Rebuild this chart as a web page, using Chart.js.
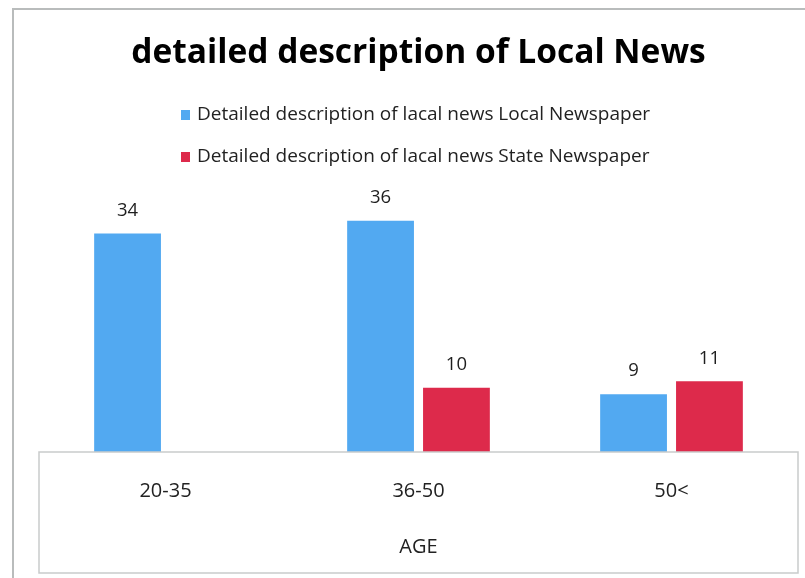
<!DOCTYPE html>
<html>
<head>
<meta charset="utf-8">
<title>detailed description of Local News</title>
<script src="https://cdn.jsdelivr.net/npm/chart.js@4/dist/chart.umd.min.js"></script>
<style>
  html, body { margin: 0; padding: 0; background: #ffffff; overflow: hidden; width: 805px; height: 578px; }
  #frame {
    position: absolute; left: 12px; top: 8px;
    width: 805px; height: 578px;
    border-left: 2px solid #b9bcbc; border-top: 2px solid #b9bcbc;
    background: #ffffff;
  }
  canvas { display: block; }
</style>
</head>
<body>
<div id="frame"><canvas id="chart" width="805" height="578"></canvas></div>
<script>
// Age groups and answers per newspaper type
const categories = ['20-35', '36-50', '50<'];
const localNewspaper = [34, 36, 9];
const stateNewspaper = [null, 10, 11];
const seriesNames = [
  'Detailed description of lacal news Local Newspaper',
  'Detailed description of lacal news State Newspaper'
];
const chartTitle = 'detailed description of Local News';
const axisTitle = 'AGE';

const BLUE = '#52a9f1';
const RED = '#dd2a4b';
const FONT = '"Open Sans", Lato, sans-serif';

// Value labels above each bar
const valueLabels = {
  id: 'valueLabels',
  afterDatasetsDraw(chart) {
    const ctx = chart.ctx;
    ctx.save();
    ctx.font = '18.5px ' + FONT;
    ctx.fillStyle = '#1e1e1e';
    ctx.textAlign = 'center';
    ctx.textBaseline = 'middle';
    chart.data.datasets.forEach((ds, i) => {
      const meta = chart.getDatasetMeta(i);
      meta.data.forEach((bar, j) => {
        const v = ds.data[j];
        if (v === null || v === undefined) return;
        ctx.fillText(String(v), bar.x, bar.y - 23);
      });
    });
    ctx.restore();
  }
};

// Stacked legend under the title, left aligned as a block
const stackedLegend = {
  id: 'stackedLegend',
  afterDraw(chart) {
    const ctx = chart.ctx;
    ctx.save();
    ctx.font = '19px ' + FONT;
    ctx.textBaseline = 'middle';
    ctx.textAlign = 'left';
    const x0 = 167;
    const rows = [105, 147];
    chart.data.datasets.forEach((ds, i) => {
      const y = rows[i];
      ctx.fillStyle = ds.backgroundColor;
      ctx.fillRect(x0, y - 5, 9, 10);
      ctx.fillStyle = '#222222';
      ctx.fillText(ds.label, x0 + 16, y);
    });
    ctx.restore();
  }
};

// Box framing the category axis area
const axisBox = {
  id: 'axisBox',
  afterDraw(chart) {
    const x = chart.scales.x;
    const ctx = chart.ctx;
    ctx.save();
    ctx.strokeStyle = '#c9cbcb';
    ctx.lineWidth = 1.5;
    ctx.strokeRect(x.left, chart.chartArea.bottom, x.right - x.left, x.bottom - chart.chartArea.bottom);
    ctx.restore();
  }
};

new Chart(document.getElementById('chart'), {
  type: 'bar',
  data: {
    labels: categories,
    datasets: [
      { label: seriesNames[0], data: localNewspaper, backgroundColor: BLUE },
      { label: seriesNames[1], data: stateNewspaper, backgroundColor: RED }
    ]
  },
  options: {
    responsive: false,
    animation: false,
    events: [],
    layout: { padding: { left: 25, right: 21, top: 0, bottom: 15 } },
    datasets: { bar: { categoryPercentage: 0.6, barPercentage: 0.88 } },
    plugins: {
      legend: { display: false },
      tooltip: { enabled: false },
      title: {
        display: true,
        text: chartTitle,
        color: '#000000',
        font: { family: FONT, size: 33.5, weight: 'bold', lineHeight: 1.2 },
        padding: { top: 23, bottom: 121.8 }
      }
    },
    scales: {
      x: {
        grid: { display: false, drawTicks: false },
        border: { display: false },
        ticks: { color: '#222222', padding: 27, font: { family: FONT, size: 20 } },
        title: {
          display: true,
          text: axisTitle,
          color: '#222222',
          font: { family: FONT, size: 20, lineHeight: 1.2 },
          padding: { top: 5, bottom: 14 }
        }
      },
      y: {
        display: false,
        min: 0,
        max: 40
      }
    }
  },
  plugins: [valueLabels, stackedLegend, axisBox]
});
</script>
</body>
</html>
